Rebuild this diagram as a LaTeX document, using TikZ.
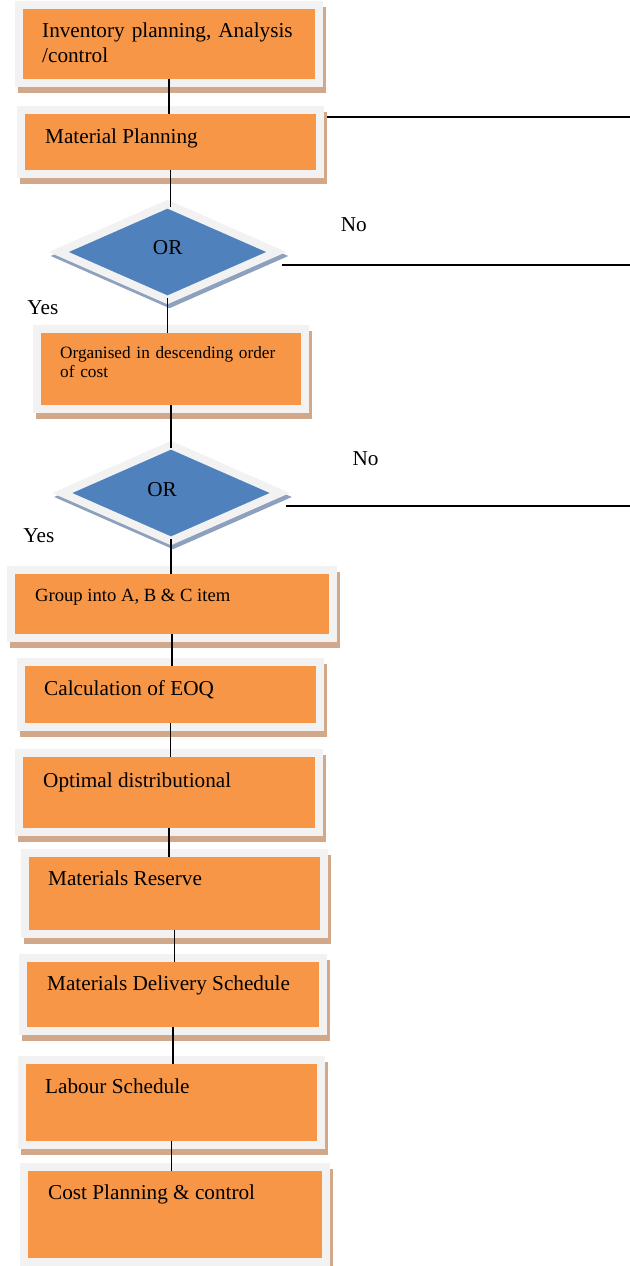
\documentclass[tikz,border=0pt]{standalone}
\usepackage{fontspec}
\setmainfont{Liberation Serif}
\usetikzlibrary{shapes.geometric}

\definecolor{boxorange}{HTML}{F79646}
\definecolor{framegray}{HTML}{F2F2F2}
\definecolor{boxshadow}{RGB}{210,168,138}
\definecolor{orblue}{HTML}{4F81BD}
\definecolor{orshadow}{RGB}{141,160,190}

\begin{document}
\begin{tikzpicture}[x=1bp, y=-1bp,
	plan/.style={rectangle, fill=boxorange, draw=framegray, line width=8bp, inner sep=0pt,
		preaction={fill=boxshadow, draw=boxshadow, line width=8bp,
			transform canvas={xshift=3bp, yshift=-6bp}}},
	test/.style={diamond, fill=orblue, draw=framegray, line width=8bp, inner sep=0pt,
		minimum width=221bp, minimum height=99bp,
		preaction={fill=orshadow, draw=orshadow, line width=8bp,
			transform canvas={xshift=2bp, yshift=-4bp}}},
	wire/.style={line width=1.5bp, black, shorten <=-8bp, shorten >=-8bp},
	txt/.style={anchor=base west, inner sep=0pt, font=\fontsize{21.3}{25.5}\selectfont},
	small/.style={txt, font=\fontsize{17.3}{19.5}\selectfont}]
	\useasboundingbox (0,0) rectangle (630,1266);
	% boxes and decisions
	\node[plan, minimum width=300bp, minimum height=78bp] (b1) at (169,44) {};
	\node[plan, minimum width=299bp, minimum height=64bp] (b2) at (170.5,142) {};
	\node[test] (d1) at (167.5,252) {};
	\node[plan, minimum width=268bp, minimum height=80bp] (b3) at (171,369) {};
	\node[test] (d2) at (171,493) {};
	\node[plan, minimum width=322bp, minimum height=68bp] (b4) at (172,604) {};
	\node[plan, minimum width=299bp, minimum height=65bp] (b5) at (170.5,694.5) {};
	\node[plan, minimum width=300bp, minimum height=79bp] (b6) at (169,792.5) {};
	\node[plan, minimum width=299bp, minimum height=81bp] (b7) at (174.5,893.5) {};
	\node[plan, minimum width=300bp, minimum height=73bp] (b8) at (173,994.5) {};
	\node[plan, minimum width=299bp, minimum height=85bp] (b9) at (171.5,1102.5) {};
	\node[plan, minimum width=302bp, minimum height=95bp] (b10) at (175,1214.5) {};
	% texts
	\node[txt, text width=280bp, align=left] (t1) at (42,37) {Inventory planning, Analysis\\/control};
	\node[txt] (t2) at (45,143) {Material Planning};
	\node[txt, anchor=base] (o1) at (167.7,254) {OR};
	\node[txt] (n1) at (340.7,231.7) {No};
	\node[txt] (y1) at (27.3,314) {Yes};
	\node[small, text width=240bp, align=left] (t3) at (60,358) {Organised in descending order\\of cost};
	\node[txt, anchor=base] (o2) at (162,496) {OR};
	\node[txt] (n2) at (352.3,465) {No};
	\node[txt] (y2) at (23.3,542) {Yes};
	\node[txt, font=\fontsize{18.7}{22}\selectfont] (t4) at (35,601) {Group into A, B \& C item};
	\node[txt] (t5) at (44,695) {Calculation of EOQ};
	\node[txt] (t6) at (43,787) {Optimal distributional};
	\node[txt] (t7) at (48,885) {Materials Reserve};
	\node[txt] (t8) at (47,990) {Materials Delivery Schedule};
	\node[txt] (t9) at (45,1093) {Labour Schedule};
	\node[txt] (t10) at (48,1199) {Cost Planning \& control};
	% connectors
	\draw[wire] (b1.south) -- (b1.south |- b2.north);
	\draw[wire] (b2.south) -- (b2.south |- d1.north);
	\draw[wire] (d1.south) -- (d1.south |- b3.north);
	\draw[wire] (b3.south) -- (b3.south |- d2.north);
	\draw[wire] (d2.south) -- (d2.south |- b4.north);
	\draw[wire] (b4.south) -- (b4.south |- b5.north);
	\draw[wire] (b5.south) -- (b5.south |- b6.north);
	\draw[wire] (b6.south) -- (b6.south |- b7.north);
	\draw[wire] (b7.south) -- (b7.south |- b8.north);
	\draw[wire] (b8.south) -- (b8.south |- b9.north);
	\draw[wire] (b9.south) -- (b9.south |- b10.north);
	% lines leaving to the right
	\coordinate (r1) at (630,117);
	\coordinate (r2) at (630,265);
	\coordinate (r3) at (630,506);
	\draw[line width=1.5bp] (r1 -| b2.east) ++(3,0) -- (r1);
	\draw[line width=1.5bp] (r2 -| d1.east) -- (r2);
	\draw[line width=1.5bp] (r3 -| d2.east) -- (r3);
\end{tikzpicture}
\end{document}
